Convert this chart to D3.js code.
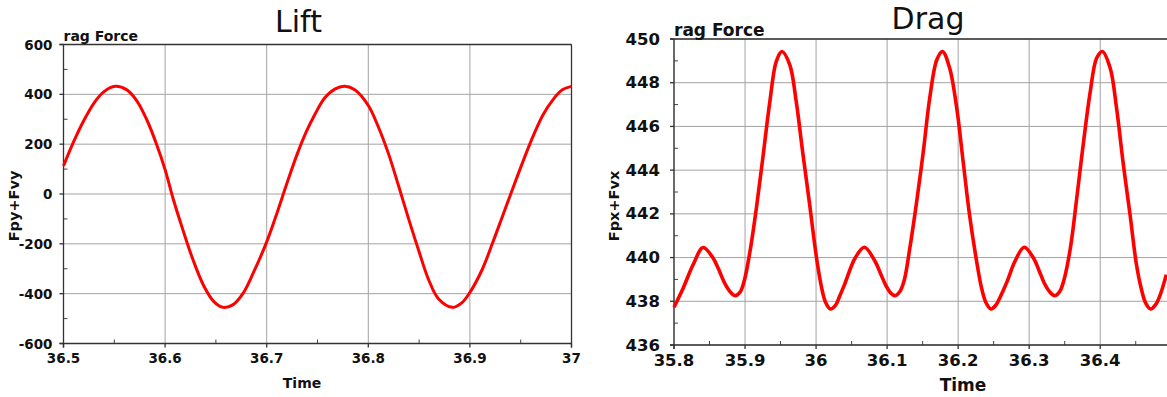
<!DOCTYPE html>
<html>
<head>
<meta charset="utf-8">
<script src="https://cdn.jsdelivr.net/npm/d3@7/dist/d3.min.js"></script>
<style>
  body { margin: 0; background: #fff; }
  svg { display: block; font-family: "DejaVu Sans", sans-serif; }
</style>
</head>
<body>
<svg width="1167" height="397"></svg>
<script>
// Lift: time and Fpy+Fvy
const liftTime = [36.500, 36.510, 36.520, 36.530, 36.539, 36.551, 36.562, 36.572, 36.582, 36.592,
  36.600, 36.608, 36.618, 36.628, 36.638, 36.648, 36.657, 36.667, 36.677, 36.687,
  36.700, 36.710, 36.720, 36.730, 36.739, 36.747, 36.757, 36.767, 36.777, 36.787,
  36.800, 36.810, 36.820, 36.830, 36.840, 36.850, 36.859, 36.869, 36.883, 36.892,
  36.900, 36.912, 36.922, 36.932, 36.942, 36.952, 36.962, 36.972, 36.982, 36.991, 37.000];
const liftForce = [113, 210, 295, 365, 408, 432, 419, 375, 298, 195,
  98, -20, -150, -270, -368, -432, -455, -444, -397, -315,
  -192, -78, 44, 160, 250, 316, 385, 421, 432, 417,
  355, 268, 160, 30, -104, -232, -340, -420, -455, -437,
  -395, -304, -200, -90, 20, 128, 230, 318, 380, 418, 432];

// Drag: time and Fpx+Fvx
const dragTime = [35.800, 35.813, 35.827, 35.841, 35.855, 35.863, 35.870, 35.878, 35.886, 35.893,
  35.899, 35.907, 35.916, 35.925, 35.935, 35.944, 35.952, 35.963, 35.972, 35.981,
  35.991, 36.000, 36.007, 36.013, 36.020, 36.027, 36.033, 36.040, 36.055, 36.068,
  36.083, 36.091, 36.098, 36.105, 36.111, 36.118, 36.124, 36.132, 36.141, 36.151,
  36.160, 36.170, 36.178, 36.188, 36.198, 36.207, 36.216, 36.226, 36.233, 36.239,
  36.246, 36.253, 36.260, 36.269, 36.280, 36.293, 36.306, 36.314, 36.321, 36.329,
  36.336, 36.343, 36.349, 36.358, 36.367, 36.376, 36.386, 36.395, 36.403, 36.414,
  36.423, 36.432, 36.442, 36.451, 36.458, 36.464, 36.471, 36.478, 36.485, 36.493];
const dragForce = [437.73, 438.61, 439.68, 440.46, 439.98, 439.45, 438.92, 438.48, 438.26, 438.42,
  438.95, 440.29, 442.27, 444.55, 447.15, 448.98, 449.43, 448.82, 447.15, 444.86,
  442.42, 440.13, 438.75, 437.98, 437.65, 437.80, 438.22, 438.76, 439.98, 440.47,
  439.83, 439.25, 438.74, 438.38, 438.26, 438.45, 438.95, 440.44, 442.42, 444.86,
  447.30, 449.05, 449.43, 448.67, 446.84, 444.40, 441.96, 439.83, 438.60, 437.95,
  437.65, 437.82, 438.25, 438.91, 439.83, 440.47, 439.98, 439.40, 438.85, 438.43,
  438.26, 438.45, 438.98, 440.44, 442.73, 445.16, 447.60, 449.13, 449.43, 448.67,
  446.84, 444.40, 441.96, 439.68, 438.55, 437.92, 437.65, 437.85, 438.35, 439.22];

// axis ticks
const liftXTicks = [36.5, 36.6, 36.7, 36.8, 36.9, 37];
const liftXMinor = [36.55, 36.65, 36.75, 36.85, 36.95];
const liftYTicks = [-600, -400, -200, 0, 200, 400, 600];
const liftYMinor = [-500, -300, -100, 100, 300, 500];
const dragXTicks = [35.8, 35.9, 36.0, 36.1, 36.2, 36.3, 36.4];
const dragXMinor = [35.85, 35.95, 36.05, 36.15, 36.25, 36.35, 36.45];
const dragYTicks = [436, 438, 440, 442, 444, 446, 448, 450];
const dragYMinor = [437, 439, 441, 443, 445, 447, 449];

const svg = d3.select('svg');
const fmt = d => String(+d.toFixed(1));

function drawPanel(cfg) {
  const x = d3.scaleLinear().domain(cfg.xDomain).range([cfg.left, cfg.right]);
  const y = d3.scaleLinear().domain(cfg.yDomain).range([cfg.bottom, cfg.top]);
  const g = svg.append('g');

  // grid
  g.append('g').selectAll('line').data(cfg.xTicks).enter().append('line')
    .attr('x1', d => x(d)).attr('x2', d => x(d))
    .attr('y1', cfg.top).attr('y2', cfg.bottom)
    .attr('stroke', '#a3a3a3').attr('stroke-width', 1);
  g.append('g').selectAll('line').data(cfg.yTicks).enter().append('line')
    .attr('x1', cfg.left).attr('x2', cfg.right)
    .attr('y1', d => y(d)).attr('y2', d => y(d))
    .attr('stroke', '#a3a3a3').attr('stroke-width', 1);

  // minor ticks pointing into the plot
  g.append('g').selectAll('line').data(cfg.xMinor).enter().append('line')
    .attr('x1', d => x(d)).attr('x2', d => x(d))
    .attr('y1', cfg.bottom).attr('y2', cfg.bottom - 4)
    .attr('stroke', '#444');
  g.append('g').selectAll('line').data(cfg.yMinor).enter().append('line')
    .attr('x1', cfg.left).attr('x2', cfg.left + 4)
    .attr('y1', d => y(d)).attr('y2', d => y(d))
    .attr('stroke', '#444');

  // frame
  const frame = g.append('g').attr('stroke', '#333').attr('stroke-width', 1.3).attr('fill', 'none');
  frame.append('line').attr('x1', cfg.left).attr('x2', cfg.left).attr('y1', cfg.top).attr('y2', cfg.bottom + 4);
  frame.append('line').attr('x1', cfg.left - 4).attr('x2', cfg.right).attr('y1', cfg.bottom).attr('y2', cfg.bottom);
  frame.append('line').attr('x1', cfg.left - 4).attr('x2', cfg.right).attr('y1', cfg.top).attr('y2', cfg.top);
  if (cfg.rightFrame) {
    frame.append('line').attr('x1', cfg.right).attr('x2', cfg.right).attr('y1', cfg.top).attr('y2', cfg.bottom + 4);
  }
  // short outer ticks at majors
  frame.selectAll('.xt').data(cfg.xTicks).enter().append('line')
    .attr('x1', d => x(d)).attr('x2', d => x(d))
    .attr('y1', cfg.bottom).attr('y2', cfg.bottom + 4);
  frame.selectAll('.yt').data(cfg.yTicks).enter().append('line')
    .attr('x1', cfg.left - 4).attr('x2', cfg.left)
    .attr('y1', d => y(d)).attr('y2', d => y(d));

  // tick labels
  g.append('g').selectAll('text').data(cfg.xTicks).enter().append('text')
    .attr('x', d => x(d)).attr('y', cfg.bottom + cfg.xLabOff)
    .attr('text-anchor', 'middle')
    .style('font-size', cfg.tickSize + 'px').style('font-weight', 'bold').attr('fill', '#111')
    .text(fmt);
  g.append('g').selectAll('text').data(cfg.yTicks).enter().append('text')
    .attr('x', cfg.left - cfg.yLabOff).attr('y', d => y(d))
    .attr('text-anchor', 'end').attr('dominant-baseline', 'central')
    .style('font-size', cfg.tickSize + 'px').style('font-weight', 'bold').attr('fill', '#111')
    .text(fmt);

  // data line
  const pts = cfg.xs.map((t, i) => [t, cfg.ys[i]]);
  g.append('path')
    .datum(pts)
    .attr('fill', 'none')
    .attr('stroke', '#ff0000')
    .attr('stroke-width', cfg.lineWidth)
    .attr('stroke-linejoin', 'round')
    .attr('d', d3.line().x(d => x(d[0])).y(d => y(d[1])).curve(d3.curveCatmullRom.alpha(0.5)));

  // texts
  g.append('text').attr('x', cfg.titleX).attr('y', cfg.titleY)
    .attr('text-anchor', 'middle').style('font-size', '30px').attr('fill', '#111')
    .text(cfg.title);
  g.append('text').attr('x', cfg.left).attr('y', cfg.legendY)
    .style('font-size', cfg.legendSize + 'px').style('font-weight', 'bold').attr('fill', '#111')
    .text('rag Force');
  g.append('text').attr('x', cfg.xLabelX).attr('y', cfg.xLabelY)
    .attr('text-anchor', 'middle')
    .style('font-size', cfg.legendSize + 'px').style('font-weight', 'bold').attr('fill', '#111')
    .text('Time');
  g.append('text')
    .attr('transform', `translate(${cfg.yLabelX},${cfg.yLabelY}) rotate(-90)`)
    .attr('text-anchor', 'middle')
    .style('font-size', '14.5px').style('font-weight', 'bold').attr('fill', '#111')
    .text(cfg.yLabel);
}

drawPanel({
  xs: liftTime, ys: liftForce,
  xDomain: [36.5, 37], yDomain: [-600, 600],
  left: 63.5, right: 571.5, top: 44.5, bottom: 343.5,
  xTicks: liftXTicks, xMinor: liftXMinor, yTicks: liftYTicks, yMinor: liftYMinor,
  rightFrame: true, tickSize: 13.5, xLabOff: 19.5, yLabOff: 11, lineWidth: 3,
  title: 'Lift', titleX: 298.5, titleY: 32,
  legendY: 41, legendSize: 14,
  xLabelX: 302, xLabelY: 388,
  yLabel: 'Fpy+Fvy', yLabelX: 19, yLabelY: 206
});

drawPanel({
  xs: dragTime, ys: dragForce,
  xDomain: [35.8, 36.494], yDomain: [436, 450],
  left: 674, right: 1167, top: 39, bottom: 345,
  xTicks: dragXTicks, xMinor: dragXMinor, yTicks: dragYTicks, yMinor: dragYMinor,
  rightFrame: false, tickSize: 16.5, xLabOff: 21, yLabOff: 14, lineWidth: 3.6,
  title: 'Drag', titleX: 928, titleY: 29,
  legendY: 36, legendSize: 17,
  xLabelX: 963, xLabelY: 391,
  yLabel: 'Fpx+Fvx', yLabelX: 619, yLabelY: 206
});
</script>
</body>
</html>
